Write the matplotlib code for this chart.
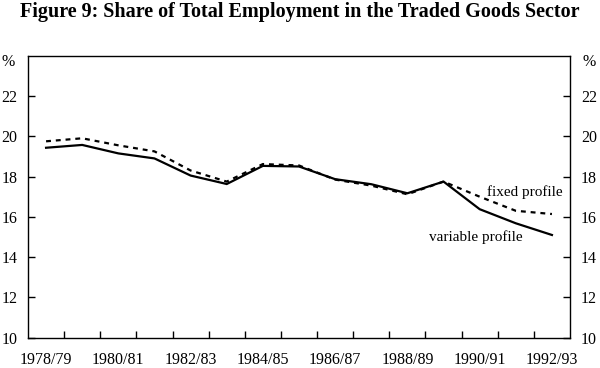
import numpy as np
import matplotlib
matplotlib.use("Agg")
import matplotlib.pyplot as plt

plt.rcParams['font.family'] = ['Liberation Serif', 'DejaVu Serif']

# financial years 1978/79 .. 1992/93
years = ['1978/79', '1979/80', '1980/81', '1981/82', '1982/83', '1983/84',
         '1984/85', '1985/86', '1986/87', '1987/88', '1988/89', '1989/90',
         '1990/91', '1991/92', '1992/93']
variable_profile = [19.43, 19.57, 19.15, 18.9, 18.05, 17.63, 18.53, 18.5,
                    17.87, 17.62, 17.17, 17.75, 16.38, 15.68, 15.1]
fixed_profile = [19.75, 19.9, 19.55, 19.25, 18.3, 17.75, 18.62, 18.55,
                 17.85, 17.55, 17.12, 17.75, 17.0, 16.3, 16.14]
yticks = [10, 12, 14, 16, 18, 20, 22]

W, H = 600, 368
fig = plt.figure(figsize=(W / 100, H / 100), dpi=100)
ax = fig.add_axes([28/W, 1 - 337.7/H, (570-28)/W, (337.7-55.7)/H])

x = np.arange(len(years))
ax.plot(x, variable_profile, color='black', lw=1.6, solid_joinstyle='miter')
ax.plot(x, fixed_profile, color='black', lw=1.6, dashes=(2.2, 2.2))

ax.set_xlim(-0.5, len(years) - 0.5)
ax.set_ylim(10, 24)

# ticks between categories, labels every second year
ax.set_xticks(np.arange(0.5, len(years) - 0.5))
ax.set_xticklabels([])
ax.tick_params(axis='x', direction='in', length=5, width=1)
for i in range(0, len(years), 2):
    ax.text(i, -22.5/282, years[i], transform=ax.get_xaxis_transform(),
            ha='center', va='center', fontsize=11.5)

ax.set_yticks(yticks)
ax.tick_params(axis='y', direction='in', length=5, width=1, labelsize=11.5,
               left=True, right=True, labelleft=True, labelright=True, pad=7.8)
for s in ax.spines.values():
    s.set_linewidth(1)

fig.text(1/W, 1 - 62.5/H, '%', ha='left', va='center', fontsize=11.5)
fig.text(582.5/W, 1 - 62.5/H, '%', ha='left', va='center', fontsize=11.5)

ax.text(12.2, 17.25, 'fixed profile', ha='left', va='center', fontsize=11)
ax.text(10.6, 15.0, 'variable profile', ha='left', va='center', fontsize=11)

fig.text(0.5, 1 - 12/H, 'Figure 9: Share of Total Employment in the Traded Goods Sector',
         ha='center', va='center', fontsize=14.5, fontweight='bold')

fig.savefig('out.png', dpi=100)
